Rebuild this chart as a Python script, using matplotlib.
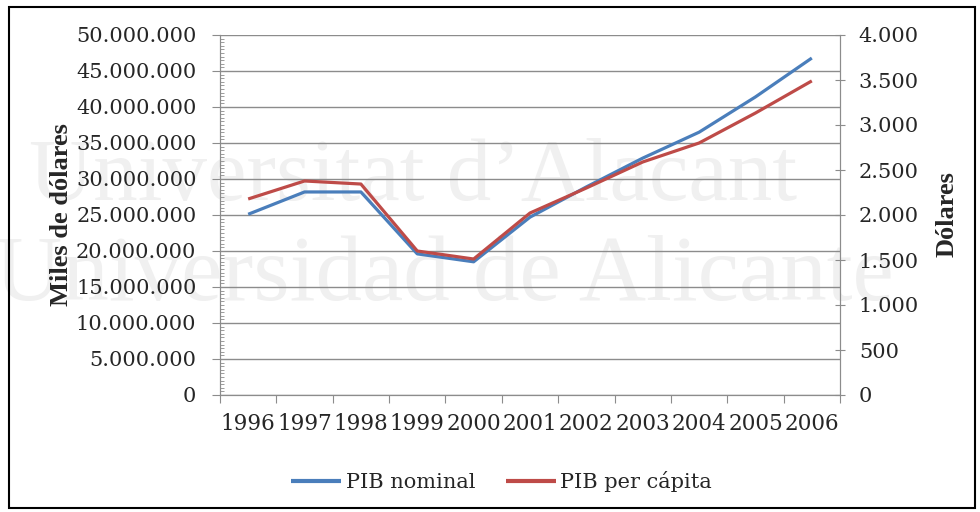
import numpy as np
import matplotlib
matplotlib.use("Agg")
import matplotlib.pyplot as plt
from matplotlib.ticker import FuncFormatter, MultipleLocator
from matplotlib.patches import Rectangle

# Datos
years = ["1996", "1997", "1998", "1999", "2000", "2001",
         "2002", "2003", "2004", "2005", "2006"]
pib_nominal = [25100000, 28200000, 28200000, 19600000, 18500000, 24700000,
               28900000, 32900000, 36500000, 41400000, 46800000]
pib_per_capita = [2178, 2378, 2344, 1600, 1511, 2022,
                  2300, 2589, 2800, 3133, 3490]

blue = "#4a7ebb"
red = "#be4b48"
grid_gray = "#8c8c8c"
text_color = "#262626"
tick_font = "DejaVu Serif"
label_font = "Liberation Serif"


def miles(v, pos):
    return f"{int(round(v)):,}".replace(",", ".")


fig = plt.figure(figsize=(9.8, 5.12), dpi=100)
fig.patch.set_facecolor("white")

# marca de agua de fondo
fig.text(0.03, 0.61, "Universitat d\u2019Alacant", fontsize=64, family=label_font,
         color="#f0f0f0", zorder=-5, ha="left", va="baseline")
fig.text(-0.005, 0.415, "Universidad de Alicante", fontsize=67, family=label_font,
         color="#f0f0f0", zorder=-5, ha="left", va="baseline")

ax = fig.add_axes([220 / 980, 117 / 512, 620 / 980, 360 / 512])
ax.patch.set_alpha(0)
x = np.arange(len(years))

ax.plot(x, pib_nominal, color=blue, lw=2.3, label="PIB nominal", zorder=3,
        solid_capstyle="butt")
ax.set_xlim(-0.5, len(years) - 0.5)
ax.set_ylim(0, 50000000)
ax.yaxis.set_major_locator(MultipleLocator(5000000))
ax.yaxis.set_minor_locator(MultipleLocator(500000))
ax.yaxis.set_major_formatter(FuncFormatter(miles))
ax.grid(axis="y", which="major", color=grid_gray, lw=1.0, zorder=1)

ax.set_xticks(np.arange(-0.5, len(years), 1))
ax.set_xticklabels([])
ax.set_xticks(x, minor=True)
ax.set_xticklabels(years, minor=True, family=tick_font, fontsize=15.5,
                   color=text_color)
ax.tick_params(axis="x", which="major", direction="out", length=6,
               color=grid_gray)
ax.tick_params(axis="x", which="minor", length=0, pad=13)
ax.tick_params(axis="y", which="major", direction="out", length=6,
               color=grid_gray, pad=11, labelsize=15, labelcolor=text_color)
ax.tick_params(axis="y", which="minor", direction="in", length=3,
               color=grid_gray)
for lab in ax.get_yticklabels():
    lab.set_family(tick_font)

ax.spines["top"].set_visible(False)
for side in ["left", "bottom", "right"]:
    ax.spines[side].set_color(grid_gray)

ax2 = ax.twinx()
ax2.plot(x, pib_per_capita, color=red, lw=2.3, label="PIB per c\u00e1pita",
         zorder=3, solid_capstyle="butt")
ax2.set_ylim(0, 4000)
ax2.yaxis.set_major_locator(MultipleLocator(500))
ax2.yaxis.set_major_formatter(FuncFormatter(miles))
ax2.tick_params(axis="y", direction="inout", length=7, color=grid_gray,
                pad=10, labelsize=15, labelcolor=text_color)
for lab in ax2.get_yticklabels():
    lab.set_family(tick_font)
ax2.spines["top"].set_visible(False)
for side in ["left", "bottom", "right"]:
    ax2.spines[side].set_color(grid_gray)

fig.text(61 / 980, 1 - 215 / 512, "Miles de d\u00f3lares", rotation=90,
         ha="center", va="center", family=label_font, fontweight="bold",
         fontsize=19, color=text_color)
fig.text(947 / 980, 1 - 214 / 512, "D\u00f3lares", rotation=90,
         ha="center", va="center", family=label_font, fontweight="bold",
         fontsize=19, color=text_color)

handles = ax.get_lines() + ax2.get_lines()
leg = fig.legend(handles, [h.get_label() for h in handles], loc="center",
                 bbox_to_anchor=(0.512, 0.059), ncol=2, frameon=False,
                 handlelength=2.4, handletextpad=0.2, columnspacing=1.5,
                 prop={"family": tick_font, "size": 15})
for t in leg.get_texts():
    t.set_color(text_color)
for line in leg.get_lines():
    line.set_linewidth(3)

# marco exterior
fig.patches.append(Rectangle((9 / 980, 4 / 512), 966 / 980, 501 / 512,
                             transform=fig.transFigure, fill=False,
                             edgecolor="black", lw=1.5))

fig.savefig("out.png", dpi=100)
